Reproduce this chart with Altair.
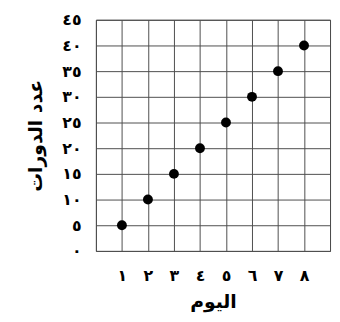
import json
import altair as alt
import pandas as pd

days = [1, 2, 3, 4, 5, 6, 7, 8]
rounds = [5, 10, 15, 20, 25, 30, 35, 40]

x_ticks = [0, 1, 2, 3, 4, 5, 6, 7, 8, 9]
x_tick_labels = ["", "١", "٢", "٣", "٤", "٥", "٦", "٧", "٨", ""]
y_ticks = [0, 5, 10, 15, 20, 25, 30, 35, 40, 45]
y_tick_labels = ["٠", "٥", "١٠", "١٥", "٢٠", "٢٥", "٣٠", "٣٥", "٤٠", "٤٥"]

x_title = "اليوم"
y_title = "عدد الدورات"

df = pd.DataFrame({"day": days, "rounds": rounds})

FONT = "DejaVu Sans"
GRID = "#4d4d4d"

x_expr = json.dumps(x_tick_labels, ensure_ascii=False) + "[datum.value]"
y_expr = json.dumps(y_tick_labels, ensure_ascii=False) + "[datum.value / 5]"

chart = alt.Chart(df).mark_circle(size=100, color="black", opacity=1).encode(
    x=alt.X("day:Q", scale=alt.Scale(domain=[0, 9], nice=False, zero=False),
            axis=alt.Axis(values=x_ticks, labelExpr=x_expr, title=x_title,
                          grid=True, gridColor=GRID, gridOpacity=1, gridWidth=1,
                          domain=False, ticks=False, labelPadding=17,
                          labelFont=FONT, labelFontSize=16, labelFontWeight="bold",
                          labelColor="black", titleFont=FONT, titleFontSize=19,
                          titleFontWeight="bold", titleColor="black", titlePadding=9)),
    y=alt.Y("rounds:Q", scale=alt.Scale(domain=[0, 45], nice=False),
            axis=alt.Axis(values=y_ticks, labelExpr=y_expr, title=y_title,
                          grid=True, gridColor=GRID, gridOpacity=1, gridWidth=1,
                          domain=False, ticks=False, labelPadding=15,
                          labelFont=FONT, labelFontSize=16, labelFontWeight="bold",
                          labelColor="black", titleFont=FONT, titleFontSize=19,
                          titleFontWeight="bold", titleColor="black", titlePadding=17)),
).properties(
    width=237, height=234,
    autosize=alt.AutoSizeParams(type="none"),
    padding={"left": 89, "top": 10, "right": 2, "bottom": 68},
).configure_view(stroke=GRID, strokeWidth=1)

chart.save("out.html", embed_options={"renderer": "svg", "actions": False})
